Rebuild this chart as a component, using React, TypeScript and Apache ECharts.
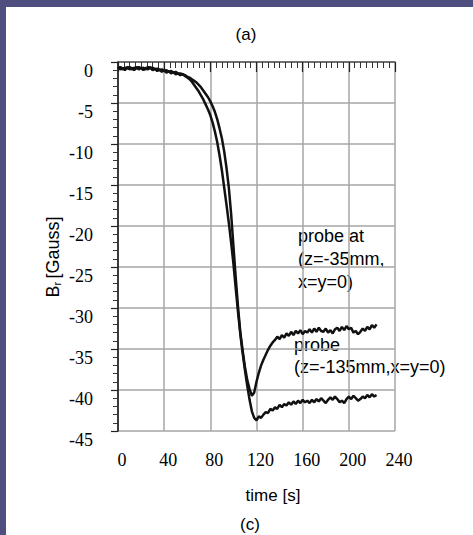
import React, { useEffect, useRef } from "react";
import * as echarts from "echarts";

const timeS = [
  0, 2, 4, 6, 8, 10, 12, 14, 16, 18, 20, 22, 24, 26, 28, 30, 32, 34, 36, 38,
  40, 42, 44, 46, 48, 50, 52, 54, 56, 58, 60, 62, 64, 66, 68, 70, 72, 74, 76, 78,
  80, 82, 84, 86, 88, 90, 92, 94, 96, 98, 100, 102, 104, 106, 108, 110, 112, 114, 116, 118,
  120, 122, 124, 126, 128, 130, 132, 134, 136, 138, 140, 142, 144, 146, 148, 150, 152, 154, 156, 158,
  160, 162, 164, 166, 168, 170, 172, 174, 176, 178, 180, 182, 184, 186, 188, 190, 192, 194, 196, 198,
  200, 202, 204, 206, 208, 210, 212, 214, 216, 218, 220, 222, 224,
];

// probe at z=-35mm, x=y=0
const probe35 = [
  -0.8, -0.6, -0.9, -0.7, -0.8, -0.6, -0.9, -0.7, -0.8, -0.6, -0.8, -0.7, -0.9, -0.6, -0.8, -0.7, -0.9, -0.8, -1.0, -0.9,
  -1.1, -1.0, -1.2, -1.1, -1.3, -1.2, -1.4, -1.4, -1.5, -1.6, -1.8, -1.9, -2.1, -2.3, -2.5, -2.8, -3.1, -3.5, -3.9, -4.3,
  -4.8, -5.4, -6.1, -7.0, -8.1, -9.3, -10.9, -12.9, -15.3, -18.5, -22.4, -26.3, -29.9, -33.0, -35.2, -37.2, -38.8, -39.9, -40.7, -40.3,
  -39.0, -37.9, -37.0, -36.3, -35.7, -35.1, -34.6, -34.2, -33.9, -33.5, -33.8, -33.3, -33.6, -33.1, -33.4, -32.9, -33.3, -32.8, -33.1, -32.7,
  -33.2, -32.8, -33.0, -32.6, -33.0, -32.5, -32.9, -32.4, -32.8, -32.9, -32.5, -33.0, -32.7, -33.1, -32.6, -32.4, -32.8, -32.3, -32.7, -32.2,
  -32.6, -32.4, -33.0, -32.8, -33.2, -32.9, -32.5, -32.8, -32.3, -32.6, -32.1, -32.4, -32.0,
];

// probe at z=-135mm, x=y=0
const probe135 = [
  -0.6, -0.9, -0.7, -1.0, -0.6, -0.9, -0.7, -1.0, -0.6, -0.9, -0.7, -1.0, -0.7, -0.9, -0.6, -1.0, -0.8, -1.1, -0.9, -1.2,
  -1.0, -1.3, -1.1, -1.4, -1.2, -1.5, -1.4, -1.6, -1.5, -1.7, -1.9, -2.1, -2.4, -2.8, -3.2, -3.6, -4.1, -4.6, -5.2, -5.8,
  -6.5, -7.4, -8.5, -9.8, -11.4, -13.2, -15.3, -17.4, -19.6, -22.0, -24.6, -27.6, -30.5, -33.2, -35.5, -37.6, -39.5, -41.2, -42.6, -43.4,
  -43.7, -43.2, -43.4, -43.0, -42.7, -42.8, -42.3, -42.5, -42.1, -42.3, -41.8, -42.1, -41.7, -41.9, -41.5, -41.8, -41.4, -41.7, -41.3, -41.6,
  -41.2, -41.5, -41.3, -41.6, -41.2, -41.5, -41.1, -41.4, -41.0, -41.3, -41.6, -41.2, -40.9, -41.2, -40.8, -41.1, -41.5, -41.3, -41.6, -41.1,
  -40.8, -41.1, -40.7, -41.0, -41.3, -41.1, -40.8, -41.0, -40.6, -40.9, -40.5, -40.8, -40.6,
];

const xTicks = [0, 40, 80, 120, 160, 200, 240];
const yTicks = [0, -5, -10, -15, -20, -25, -30, -35, -40, -45];

const annotation35 = ["probe at", "(z=-35mm,", "x=y=0)"];
const annotation135 = ["probe", "(z=-135mm,x=y=0)"];

export default function App() {
  const ref = useRef<HTMLDivElement>(null);
  useEffect(() => {
    if (!ref.current) return;
    const chart = echarts.init(ref.current, null, { renderer: "svg" });
    const serif = "Liberation Serif";
    const sans = "Liberation Sans";
    const blue = "#4f4e80";
    const gridColor = "#a6a6a6";
    chart.setOption({
      animation: false,
      backgroundColor: "#ffffff",
      grid: { left: 118, right: 78, top: 62, bottom: 104, containLabel: false },
      xAxis: {
        type: "value",
        min: xTicks[0],
        max: xTicks[xTicks.length - 1],
        interval: 40,
        axisLine: { show: true, lineStyle: { color: "#555", width: 1.5 } },
        axisTick: { show: true, inside: false, length: 10, lineStyle: { color: "#222", width: 1.2 } },
        minorTick: { show: true, splitNumber: 8, length: 6, lineStyle: { color: "#333", width: 1 } },
        splitLine: { show: true, lineStyle: { color: gridColor, width: 1.5 } },
        axisLabel: {
          fontFamily: serif,
          fontSize: 18,
          color: "#000",
          margin: 20,
          padding: [0, 0, 0, 8],
        },
      },
      yAxis: {
        type: "value",
        min: yTicks[yTicks.length - 1],
        max: yTicks[0],
        interval: 5,
        axisLine: { show: true, lineStyle: { color: "#111", width: 1.5 } },
        axisTick: { show: true, inside: false, length: 7, lineStyle: { color: "#222", width: 1.2 } },
        minorTick: { show: true, splitNumber: 5, length: 5, lineStyle: { color: "#333", width: 1 } },
        splitLine: { show: true, lineStyle: { color: gridColor, width: 1.5 } },
        axisLabel: {
          fontFamily: serif,
          fontSize: 18,
          color: "#000",
          margin: 25,
          verticalAlign: "top",
        },
      },
      series: [
        {
          name: "z=-35mm",
          type: "line",
          data: timeS.map((t, i) => [t, probe35[i]]),
          showSymbol: false,
          lineStyle: { color: "#111", width: 2.5 },
          z: 3,
        },
        {
          name: "z=-135mm",
          type: "line",
          data: timeS.map((t, i) => [t, probe135[i]]),
          showSymbol: false,
          lineStyle: { color: "#111", width: 2.5 },
          z: 3,
        },
      ],
      graphic: [
        { type: "rect", shape: { x: 0, y: 0, width: 473, height: 7 }, style: { fill: blue }, silent: true },
        { type: "rect", shape: { x: 0, y: 0, width: 6, height: 535 }, style: { fill: blue }, silent: true },
        {
          type: "text",
          x: 246,
          y: 34,
          style: { text: "(a)", font: `17px ${sans}`, fill: "#000", align: "center", verticalAlign: "middle" },
        },
        {
          type: "text",
          x: 53,
          y: 257,
          rotation: Math.PI / 2,
          style: {
            text: "{b|B}{s|r} {b|[Gauss]}",
            align: "center",
            verticalAlign: "middle",
            fill: "#000",
            rich: {
              b: { fontFamily: sans, fontSize: 18, fill: "#000", lineHeight: 20 },
              s: { fontFamily: sans, fontSize: 11, fill: "#000", lineHeight: 20, padding: [8, 0, 0, 0] },
            },
          },
        },
        {
          type: "text",
          x: 298,
          y: 259,
          style: {
            text: annotation35.join("\n"),
            font: `18px ${sans}`,
            lineHeight: 23,
            fill: "#000",
            align: "left",
            verticalAlign: "middle",
          },
        },
        {
          type: "text",
          x: 294,
          y: 356,
          style: {
            text: annotation135.join("\n"),
            font: `18px ${sans}`,
            lineHeight: 22,
            fill: "#000",
            align: "left",
            verticalAlign: "middle",
          },
        },
        {
          type: "text",
          x: 273,
          y: 495,
          style: { text: "time [s]", font: `17px ${sans}`, fill: "#000", align: "center", verticalAlign: "middle" },
        },
        {
          type: "text",
          x: 250,
          y: 524,
          style: { text: "(c)", font: `17px ${sans}`, fill: "#000", align: "center", verticalAlign: "middle" },
        },
      ],
    });
    return () => chart.dispose();
  }, []);
  return (
    <div
      ref={ref}
      style={{ position: "absolute", left: 0, top: 0, width: 473, height: 535 }}
    />
  );
}
